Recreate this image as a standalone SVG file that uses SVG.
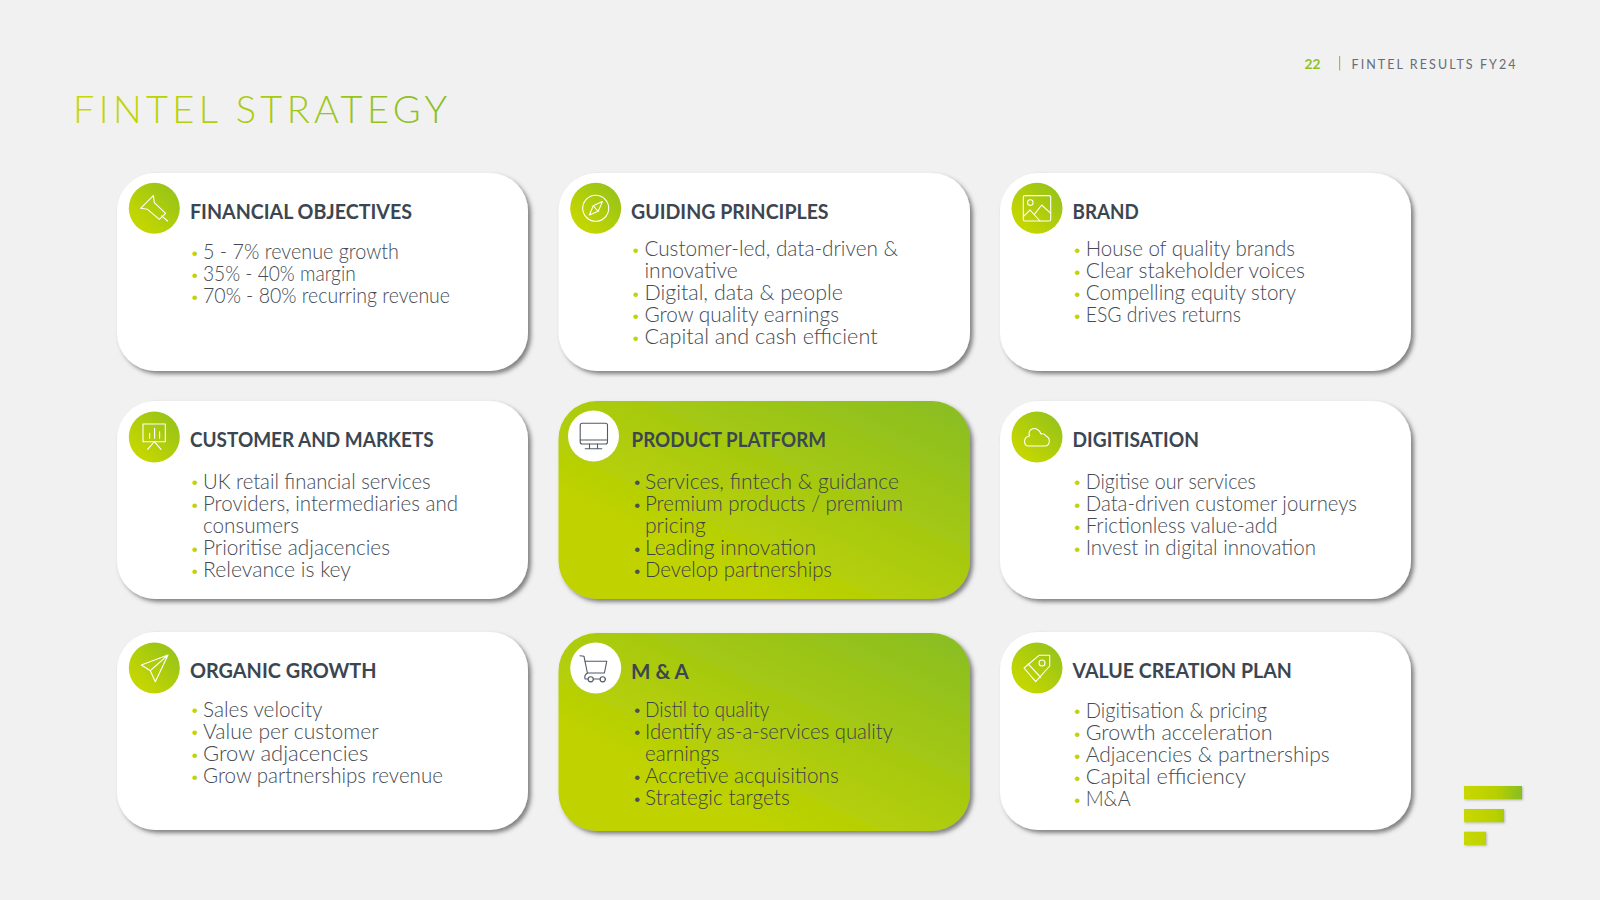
<svg xmlns="http://www.w3.org/2000/svg" width="1600" height="900" viewBox="0 0 1600 900">
<style>
.card{fill:#fff;filter:url(#sh)}
.gcard{fill:url(#gc);filter:url(#sh)}
.disc{fill:url(#gd)}
.wdisc{fill:#fff}
.ic{fill:none;stroke:#fff;stroke-width:1.1;stroke-linejoin:round;stroke-linecap:round}
.icd{fill:none;stroke:#525a64;stroke-width:1.1;stroke-linejoin:round;stroke-linecap:round}
text{font-family:"Lato","Open Sans","Liberation Sans",sans-serif}
.h{font-size:21px;font-weight:700;fill:#3c4650}
.b{font-size:21px;font-weight:300;fill:#454b54;transform:translateY(1px)}
.p{font-family:"Liberation Sans",sans-serif;font-size:17px;fill:#c0d400;text-anchor:middle;transform:translateY(1px)}
.pd{font-family:"Liberation Sans",sans-serif;font-size:17px;fill:#4a5058;text-anchor:middle;transform:translateY(1px)}
#product-platform .b,#m-and-a .b{fill:#3d434c;transform:translate(-1px,1px)}
</style>
<defs>
<filter id="sh" x="-5%" y="-5%" width="112%" height="115%"><feDropShadow dx="3" dy="3" stdDeviation="2.2" flood-color="#444" flood-opacity="0.65"/></filter>
<filter id="sl" x="-5%" y="-20%" width="112%" height="150%"><feDropShadow dx="1" dy="1" stdDeviation="0.8" flood-color="#666" flood-opacity="0.4"/></filter>
<linearGradient id="gc" x1="0" y1="1" x2="1" y2="0"><stop offset="0.25" stop-color="#c0d300"/><stop offset="1" stop-color="#88bd24"/></linearGradient>
<linearGradient id="gd" x1="0" y1="1" x2="1" y2="0"><stop offset="0.2" stop-color="#c4d600"/><stop offset="1" stop-color="#8fc01e"/></linearGradient>
<linearGradient id="gt" gradientUnits="userSpaceOnUse" x1="75" y1="0" x2="446" y2="0"><stop offset="0" stop-color="#c8d800"/><stop offset="1" stop-color="#88bd24"/></linearGradient>
<linearGradient id="gl" gradientUnits="userSpaceOnUse" x1="1464" y1="0" x2="1522" y2="0"><stop offset="0" stop-color="#c8d800"/><stop offset="0.55" stop-color="#b8d000"/><stop offset="1" stop-color="#88bd24"/></linearGradient>
</defs>
<rect width="1600" height="900" fill="#f1f1f1"/>

<g id="header">
<text x="1304.5" y="68.5" font-size="14" font-weight="700" fill="#8fc31f" textLength="16" lengthAdjust="spacingAndGlyphs">22</text>
<rect x="1339" y="56" width="1.2" height="14.5" fill="#9cc62a"/>
<text x="1351.5" y="69" font-size="12.5" fill="#666c76" textLength="164" lengthAdjust="spacing">FINTEL RESULTS FY24</text>
<text x="73" y="122.7" font-size="38" font-weight="300" fill="url(#gt)" textLength="374" lengthAdjust="spacing">FINTEL STRATEGY</text>
</g>

<g id="financial-objectives">
<rect class="card" x="117" y="173" width="411" height="198" rx="38"/>
<circle class="disc" cx="154.3" cy="208.3" r="25.5"/>
<g class="ic" transform="translate(154.3 208.3)"><path d="M-13.7 0L-1 -12.7L0 -5.7L11.3 5L5 11L-6.7 1Z"/><path d="M7.3 7.5L13.3 12.7"/></g>
<text class="h" x="190" y="219" textLength="222" lengthAdjust="spacingAndGlyphs">FINANCIAL OBJECTIVES</text>
<text class="p" x="194.7" y="257.5">•</text><text class="b" x="203" y="258" textLength="196" lengthAdjust="spacingAndGlyphs">5 - 7% revenue growth</text>
<text class="p" x="194.7" y="279.5">•</text><text class="b" x="203" y="280" textLength="152.7" lengthAdjust="spacingAndGlyphs">35% - 40% margin</text>
<text class="p" x="194.7" y="301.5">•</text><text class="b" x="203" y="302" textLength="247" lengthAdjust="spacingAndGlyphs">70% - 80% recurring revenue</text>
</g>

<g id="guiding-principles">
<rect class="card" x="558.5" y="173" width="411.5" height="198" rx="38"/>
<circle class="disc" cx="595.7" cy="208.3" r="25.5"/>
<g class="ic" transform="translate(595.7 208.3)"><circle r="13"/><path d="M6.7 -6.7L2.5 3L-6.3 6.7L-2.5 -2.5Z"/><path d="M-2.5 -2.5L2.5 3"/></g>
<text class="h" x="631" y="219" textLength="197.6" lengthAdjust="spacingAndGlyphs">GUIDING PRINCIPLES</text>
<text class="p" x="635.8" y="254.5">•</text><text class="b" x="644.4" y="255" textLength="253.6" lengthAdjust="spacingAndGlyphs">Customer-led, data-driven &amp;</text>
<text class="b" x="644.4" y="277" textLength="93.4" lengthAdjust="spacingAndGlyphs">innovative</text>
<text class="p" x="635.8" y="298.5">•</text><text class="b" x="644.4" y="299" textLength="198.6" lengthAdjust="spacingAndGlyphs">Digital, data &amp; people</text>
<text class="p" x="635.8" y="320.5">•</text><text class="b" x="644.4" y="321" textLength="194.6" lengthAdjust="spacingAndGlyphs">Grow quality earnings</text>
<text class="p" x="635.8" y="342.5">•</text><text class="b" x="644.4" y="343" textLength="233.2" lengthAdjust="spacingAndGlyphs">Capital and cash efficient</text>
</g>

<g id="brand">
<rect class="card" x="1000" y="173" width="411" height="198" rx="38"/>
<circle class="disc" cx="1037" cy="208.3" r="25.5"/>
<g class="ic" transform="translate(1037 208.3)"><rect x="-13.7" y="-12.7" width="27.4" height="25.4" rx="1.5"/><circle cx="-6.7" cy="-5.7" r="2.8"/><path d="M-13.7 8.3L-7 1.7L3 12.7M-2.7 6L4.7 -3.3L13.7 5"/></g>
<text class="h" x="1072.5" y="219" textLength="66.3" lengthAdjust="spacingAndGlyphs">BRAND</text>
<text class="p" x="1077.2" y="254.5">•</text><text class="b" x="1085.7" y="255" textLength="209.3" lengthAdjust="spacingAndGlyphs">House of quality brands</text>
<text class="p" x="1077.2" y="276.5">•</text><text class="b" x="1085.7" y="277" textLength="219.3" lengthAdjust="spacingAndGlyphs">Clear stakeholder voices</text>
<text class="p" x="1077.2" y="298.5">•</text><text class="b" x="1085.7" y="299" textLength="210.3" lengthAdjust="spacingAndGlyphs">Compelling equity story</text>
<text class="p" x="1077.2" y="320.5">•</text><text class="b" x="1085.7" y="321" textLength="155.3" lengthAdjust="spacingAndGlyphs">ESG drives returns</text>
</g>

<g id="customer-and-markets">
<rect class="card" x="117" y="401" width="411" height="198" rx="38"/>
<circle class="disc" cx="154.3" cy="437" r="25.5"/>
<g class="ic" transform="translate(154.3 437)"><path d="M-11.3 -13H11V4.7H-11.3Z"/><path d="M-4.7 1.3V-3.7M0.3 1.3V-8.7M5.3 1.3V-5.3M0 4.7L-6.7 12.3M0 4.7L6.7 12.3"/></g>
<text class="h" x="190" y="447" textLength="243.7" lengthAdjust="spacingAndGlyphs">CUSTOMER AND MARKETS</text>
<text class="p" x="194.7" y="487.2">•</text><text class="b" x="203" y="487.7" textLength="227.6" lengthAdjust="spacingAndGlyphs">UK retail financial services</text>
<text class="p" x="194.7" y="509.5">•</text><text class="b" x="203" y="510" textLength="255" lengthAdjust="spacingAndGlyphs">Providers, intermediaries and</text>
<text class="b" x="203" y="532" textLength="96" lengthAdjust="spacingAndGlyphs">consumers</text>
<text class="p" x="194.7" y="553.5">•</text><text class="b" x="203" y="554" textLength="187" lengthAdjust="spacingAndGlyphs">Prioritise adjacencies</text>
<text class="p" x="194.7" y="575.5">•</text><text class="b" x="203" y="576" textLength="148" lengthAdjust="spacingAndGlyphs">Relevance is key</text>
</g>

<g id="product-platform">
<rect class="gcard" x="558.5" y="401" width="411.5" height="198" rx="38"/>
<circle class="wdisc" cx="593.5" cy="436" r="25.5"/>
<g class="icd" transform="translate(593.5 436)"><rect x="-13.3" y="-12.7" width="27.3" height="20.7" rx="2"/><path d="M-13.3 4H14M-4 8V12.7M4 8V12.7M-8.3 12.7H8.3"/></g>
<text class="h" x="631.5" y="447" textLength="194.5" lengthAdjust="spacingAndGlyphs">PRODUCT PLATFORM</text>
<text class="pd" x="637.3" y="487.2">•</text><text class="b" x="646" y="487.7" textLength="254" lengthAdjust="spacingAndGlyphs">Services, fintech &amp; guidance</text>
<text class="pd" x="637.3" y="509.5">•</text><text class="b" x="646" y="510" textLength="258" lengthAdjust="spacingAndGlyphs">Premium products / premium</text>
<text class="b" x="646" y="532" textLength="60.7" lengthAdjust="spacingAndGlyphs">pricing</text>
<text class="pd" x="637.3" y="553.5">•</text><text class="b" x="646" y="554" textLength="171" lengthAdjust="spacingAndGlyphs">Leading innovation</text>
<text class="pd" x="637.3" y="575.5">•</text><text class="b" x="646" y="576" textLength="187" lengthAdjust="spacingAndGlyphs">Develop partnerships</text>
</g>

<g id="digitisation">
<rect class="card" x="1000" y="401" width="411" height="198" rx="38"/>
<circle class="disc" cx="1037" cy="437" r="25.5"/>
<path class="ic" transform="translate(1037 437)" d="M-8.5 9H8C13 9 14 1 9 -1C8 -3 6 -3.5 4 -3C2.5 -7.5 -2 -9.5 -5 -8C-8 -6.5 -8.5 -4 -7.5 -1C-14 0 -14 9 -8.5 9Z"/>
<text class="h" x="1072.5" y="447" textLength="126.5" lengthAdjust="spacingAndGlyphs">DIGITISATION</text>
<text class="p" x="1077.2" y="487.2">•</text><text class="b" x="1085.7" y="487.7" textLength="170.3" lengthAdjust="spacingAndGlyphs">Digitise our services</text>
<text class="p" x="1077.2" y="509.5">•</text><text class="b" x="1085.7" y="510" textLength="271.3" lengthAdjust="spacingAndGlyphs">Data-driven customer journeys</text>
<text class="p" x="1077.2" y="531.5">•</text><text class="b" x="1085.7" y="532" textLength="191.8" lengthAdjust="spacingAndGlyphs">Frictionless value-add</text>
<text class="p" x="1077.2" y="553.5">•</text><text class="b" x="1085.7" y="554" textLength="230.3" lengthAdjust="spacingAndGlyphs">Invest in digital innovation</text>
</g>

<g id="organic-growth">
<rect class="card" x="117" y="632" width="411" height="198" rx="38"/>
<circle class="disc" cx="154.3" cy="668" r="25.5"/>
<path class="ic" transform="translate(154.3 668)" d="M13.7 -13L-13 -3L-4 2.7L1 13.7ZM13.7 -13L-4 2.7"/>
<text class="h" x="190" y="678.2" textLength="186.5" lengthAdjust="spacingAndGlyphs">ORGANIC GROWTH</text>
<text class="p" x="194.7" y="715.2">•</text><text class="b" x="203" y="715.7" textLength="119.5" lengthAdjust="spacingAndGlyphs">Sales velocity</text>
<text class="p" x="194.7" y="737.4">•</text><text class="b" x="203" y="737.9" textLength="175.6" lengthAdjust="spacingAndGlyphs">Value per customer</text>
<text class="p" x="194.7" y="759.5">•</text><text class="b" x="203" y="760" textLength="165.4" lengthAdjust="spacingAndGlyphs">Grow adjacencies</text>
<text class="p" x="194.7" y="781.5">•</text><text class="b" x="203" y="782" textLength="239.9" lengthAdjust="spacingAndGlyphs">Grow partnerships revenue</text>
</g>

<g id="m-and-a">
<rect class="gcard" x="558.5" y="633" width="411.5" height="198" rx="38"/>
<circle class="wdisc" cx="595.7" cy="668" r="25.5"/>
<g class="icd" transform="translate(595.7 668)"><path d="M-15.7 -12.3L-11.7 -11.7L-8.3 5C-11 7 -11.5 9 -10.5 11H-7.5M-2.5 11H4.5M9.5 11H10"/><path d="M-10.7 -6.7H11L8.7 5H-8.3"/><circle cx="-5" cy="11.3" r="2.6"/><circle cx="7" cy="11.3" r="2.6"/></g>
<text class="h" x="631" y="679.2" textLength="57.8" lengthAdjust="spacingAndGlyphs">M &amp; A</text>
<text class="pd" x="637.3" y="715.2">•</text><text class="b" x="646" y="715.7" textLength="124.4" lengthAdjust="spacingAndGlyphs">Distil to quality</text>
<text class="pd" x="637.3" y="737.4">•</text><text class="b" x="646" y="737.9" textLength="247.9" lengthAdjust="spacingAndGlyphs">Identify as-a-services quality</text>
<text class="b" x="646" y="760" textLength="74.4" lengthAdjust="spacingAndGlyphs">earnings</text>
<text class="pd" x="637.3" y="781.5">•</text><text class="b" x="646" y="782" textLength="193.8" lengthAdjust="spacingAndGlyphs">Accretive acquisitions</text>
<text class="pd" x="637.3" y="803.5">•</text><text class="b" x="646" y="804" textLength="144.8" lengthAdjust="spacingAndGlyphs">Strategic targets</text>
</g>

<g id="value-creation-plan">
<rect class="card" x="1000" y="632" width="411" height="198" rx="38"/>
<circle class="disc" cx="1037" cy="668" r="25.5"/>
<g class="ic" transform="translate(1037 668)"><path d="M12.7 -12.7L2 -12.7L-13 0L-1.3 13.7L12.7 -2Z"/><path d="M-8.7 -4L3.7 9.3"/><circle cx="5" cy="-5" r="3"/></g>
<text class="h" x="1072.5" y="678.2" textLength="219.3" lengthAdjust="spacingAndGlyphs">VALUE CREATION PLAN</text>
<text class="p" x="1077.2" y="716.2">•</text><text class="b" x="1085.7" y="716.7" textLength="181.3" lengthAdjust="spacingAndGlyphs">Digitisation &amp; pricing</text>
<text class="p" x="1077.2" y="738.5">•</text><text class="b" x="1085.7" y="739" textLength="186.8" lengthAdjust="spacingAndGlyphs">Growth acceleration</text>
<text class="p" x="1077.2" y="760.5">•</text><text class="b" x="1085.7" y="761" textLength="243.9" lengthAdjust="spacingAndGlyphs">Adjacencies &amp; partnerships</text>
<text class="p" x="1077.2" y="782.5">•</text><text class="b" x="1085.7" y="783" textLength="160.3" lengthAdjust="spacingAndGlyphs">Capital efficiency</text>
<text class="p" x="1077.2" y="804.5">•</text><text class="b" x="1085.7" y="805" textLength="44.9" lengthAdjust="spacingAndGlyphs">M&amp;A</text>
</g>

<g id="logo" filter="url(#sl)">
<rect x="1464" y="786" width="58" height="13.3" fill="url(#gl)"/>
<rect x="1464" y="809" width="40" height="13.3" fill="url(#gl)"/>
<rect x="1464" y="831.7" width="22" height="13.3" fill="url(#gl)"/>
</g>
</svg>
